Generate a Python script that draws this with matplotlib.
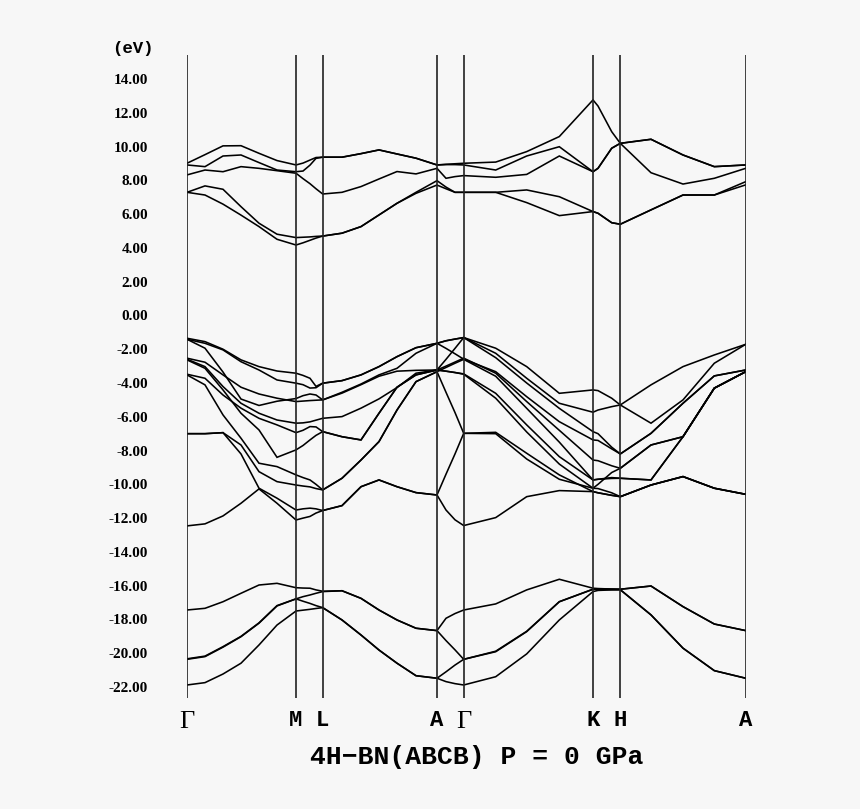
import matplotlib
matplotlib.use("Agg")
import matplotlib.pyplot as plt
from matplotlib.ticker import FormatStrFormatter

plt.rcParams['axes.unicode_minus'] = False

# high-symmetry points along the path
K_TICKS = [0.0, 1.09, 1.357, 2.50, 2.767, 4.06, 4.333, 5.587]
K_LABELS = ['\u0393', 'M', 'L', 'A', '\u0393', 'K', 'H', 'A']

# k nodes: G-M (7), M-L (4), L-A (6), A-G (3), G-K (4), K-H (3), H-A (4)
K_NODES = [0.00, 0.18, 0.36, 0.54, 0.72, 0.90, 1.09,
           1.16, 1.23, 1.29, 1.357,
           1.55, 1.74, 1.92, 2.10, 2.29, 2.50,
           2.59, 2.68, 2.767,
           3.087, 3.397, 3.723, 4.06,
           4.11, 4.247, 4.333,
           4.64, 4.96, 5.273, 5.587]

CONDUCTION = [
    [7.29, 7.13, 6.59, 5.94, 5.26, 4.51, 4.17,
     4.30, 4.45, 4.58, 4.70,
     4.87, 5.26, 5.95, 6.64, 7.23, 7.72,
     7.50, 7.29, 7.29,
     7.29, 6.68, 5.91, 6.15,
     6.05, 5.49, 5.40,
     6.25, 7.13, 7.13, 7.73],
    [7.29, 7.67, 7.47, 6.44, 5.46, 4.81, 4.61,
     4.63, 4.65, 4.68, 4.70,
     4.87, 5.26, 5.95, 6.64, 7.29, 7.98,
     7.60, 7.29, 7.29,
     7.29, 7.43, 7.03, 6.15,
     6.05, 5.49, 5.40,
     6.25, 7.13, 7.13, 7.92],
    [8.32, 8.61, 8.51, 8.81, 8.71, 8.57, 8.42,
     8.10, 7.80, 7.50, 7.19,
     7.29, 7.63, 8.08, 8.52, 8.38, 8.71,
     8.12, 8.22, 8.28,
     8.18, 8.35, 9.44, 8.51,
     8.71, 9.90, 10.19,
     10.43, 9.50, 8.81, 8.91],
    [8.91, 8.81, 9.44, 9.50, 9.05, 8.61, 8.51,
     8.55, 8.90, 9.30, 9.37,
     9.37, 9.58, 9.80, 9.56, 9.31, 8.91,
     8.93, 8.93, 8.91,
     8.61, 9.44, 9.99, 8.51,
     8.71, 9.90, 10.19,
     8.45, 7.78, 8.12, 8.71],
    [9.01, 9.52, 10.04, 10.05, 9.60, 9.17, 8.91,
     9.02, 9.20, 9.35, 9.37,
     9.37, 9.58, 9.80, 9.56, 9.31, 8.91,
     8.95, 8.98, 9.01,
     9.08, 9.70, 10.59, 12.76,
     12.40, 10.88, 10.19,
     10.43, 9.50, 8.81, 8.91],
]

VALENCE = [
    [-1.35, -1.55, -2.00, -2.63, -3.03, -3.29, -3.42,
     -3.55, -3.72, -4.20, -4.01,
     -3.86, -3.52, -3.03, -2.44, -1.91, -1.65,
     -1.50, -1.40, -1.31,
     -1.94, -3.03, -4.61, -4.41,
     -4.45, -4.90, -5.30,
     -4.11, -3.03, -2.34, -1.71],
    [-1.41, -1.65, -2.04, -2.74, -3.23, -3.82, -4.01,
     -4.10, -4.30, -4.28, -4.01,
     -3.86, -3.52, -3.03, -2.44, -1.91, -1.65,
     -1.95, -2.27, -2.59,
     -3.33, -4.81, -6.29, -7.37,
     -7.40, -7.90, -8.20,
     -6.98, -5.20, -3.58, -3.23],
    [-1.41, -1.94, -3.35, -4.95, -5.33, -5.08, -4.92,
     -4.75, -4.65, -4.71, -5.00,
     -4.55, -4.06, -3.52, -3.13, -2.24, -1.65,
     -1.50, -1.40, -1.31,
     -2.24, -3.72, -5.20, -5.73,
     -5.60, -5.40, -5.30,
     -6.38, -5.00, -2.83, -1.71],
    [-2.53, -2.77, -3.52, -4.25, -4.65, -4.90, -5.10,
     -5.07, -5.04, -5.02, -5.00,
     -4.60, -4.10, -3.60, -3.30, -3.25, -3.23,
     -2.60, -1.95, -1.31,
     -2.50, -4.00, -5.50, -6.88,
     -7.00, -7.80, -8.20,
     -6.98, -5.20, -3.58, -3.23],
    [-2.59, -3.03, -4.21, -5.20, -5.79, -6.19, -6.38,
     -6.36, -6.30, -6.20, -6.09,
     -5.99, -5.49, -4.94, -4.27, -3.42, -3.23,
     -3.00, -2.76, -2.53,
     -3.42, -5.10, -6.80, -8.56,
     -8.60, -8.90, -9.05,
     -7.67, -7.18, -4.30, -3.33],
    [-2.63, -3.13, -4.41, -5.79, -6.78, -8.40, -7.96,
     -7.70, -7.37, -7.10, -6.88,
     -7.18, -7.37, -5.79, -4.25, -3.52, -3.23,
     -3.30, -3.38, -3.46,
     -4.61, -6.48, -8.36, -9.74,
     -9.70, -9.65, -9.64,
     -9.74, -7.18, -4.31, -3.33],
    [-3.48, -3.72, -4.71, -5.49, -6.09, -6.48, -6.94,
     -6.80, -6.58, -6.60, -6.88,
     -7.18, -7.37, -5.79, -4.25, -3.52, -3.23,
     -3.30, -3.38, -3.48,
     -4.90, -6.90, -8.80, -10.23,
     -10.25, -10.50, -10.73,
     -10.04, -9.54, -10.23, -10.59],
    [-3.52, -4.11, -5.89, -7.27, -8.75, -8.95, -9.44,
     -9.60, -9.74, -10.00, -10.33,
     -9.64, -8.56, -7.47, -5.60, -3.92, -3.33,
     -4.55, -5.75, -6.98,
     -6.92, -8.16, -9.44, -10.43,
     -10.50, -10.65, -10.73,
     -10.04, -9.54, -10.23, -10.59],
    [-7.00, -7.00, -6.94, -7.67, -9.25, -9.84, -10.04,
     -10.10, -10.15, -10.25, -10.33,
     -9.64, -8.56, -7.47, -5.60, -3.92, -3.33,
     -3.08, -2.83, -2.60,
     -3.60, -5.50, -7.50, -9.74,
     -9.70, -9.60, -9.64,
     -9.74, -7.18, -4.31, -3.33],
    [-7.00, -7.00, -6.94, -8.20, -10.23, -10.82, -11.52,
     -11.45, -11.41, -11.45, -11.55,
     -11.26, -10.14, -9.74, -10.14, -10.49, -10.63,
     -9.40, -8.20, -6.98,
     -7.00, -8.50, -9.70, -10.23,
     -10.00, -9.30, -9.05,
     -7.67, -7.18, -4.30, -3.33],
    [-12.46, -12.34, -11.87, -11.12, -10.27, -11.12, -12.11,
     -12.00, -11.90, -11.70, -11.55,
     -11.26, -10.14, -9.74, -10.14, -10.49, -10.63,
     -11.52, -12.10, -12.44,
     -11.97, -10.73, -10.37, -10.43,
     -10.50, -10.65, -10.73,
     -10.04, -9.54, -10.23, -10.59],
]

SEMICORE = [
    [-17.44, -17.34, -16.95, -16.45, -15.96, -15.86, -16.12,
     -16.14, -16.15, -16.25, -16.33,
     -16.30, -16.75, -17.44, -18.03, -18.52, -18.66,
     -17.93, -17.65, -17.44,
     -17.08, -16.25, -15.62, -16.15,
     -16.17, -16.20, -16.21,
     -16.02, -17.24, -18.27, -18.66],
    [-20.36, -20.20, -19.64, -19.02, -18.22, -17.20, -16.78,
     -16.65, -16.55, -16.45, -16.35,
     -16.30, -16.75, -17.44, -18.03, -18.52, -18.66,
     -19.25, -19.80, -20.36,
     -19.91, -18.72, -16.95, -16.21,
     -16.22, -16.23, -16.24,
     -17.73, -19.70, -21.03, -21.48],
    [-20.33, -20.17, -19.61, -19.00, -18.20, -17.18, -16.78,
     -16.92, -17.05, -17.18, -17.30,
     -18.03, -18.92, -19.81, -20.59, -21.33, -21.48,
     -21.10, -20.70, -20.36,
     -19.88, -18.70, -16.95, -16.21,
     -16.20, -16.20, -16.21,
     -16.02, -17.24, -18.27, -18.66],
    [-21.88, -21.74, -21.23, -20.59, -19.51, -18.33, -17.50,
     -17.45, -17.40, -17.35, -17.30,
     -18.03, -18.92, -19.81, -20.59, -21.33, -21.48,
     -21.68, -21.80, -21.88,
     -21.39, -20.04, -18.03, -16.35,
     -16.28, -16.25, -16.24,
     -17.73, -19.70, -21.03, -21.48],
]

Y_TICKS = list(range(-22, 15, 2))
TITLE = '4H\u2212BN(ABCB) P = 0 GPa'

BG = '#f7f7f7'
W, H = 860, 809

fig = plt.figure(figsize=(W / 100, H / 100), dpi=100, facecolor=BG)
ax = fig.add_axes([187 / W, 1 - 698 / H, 558.7 / W, 643 / H], facecolor=BG)

for band in CONDUCTION + VALENCE + SEMICORE:
    ax.plot(K_NODES, band, color='black', lw=1.15, solid_joinstyle='miter')

for k in K_TICKS:
    ax.axvline(k, color='#222222', lw=1.2)

ax.set_xlim(K_TICKS[0], K_TICKS[-1])
ax.set_ylim(-22.65, 15.42)
for s in ax.spines.values():
    s.set_visible(False)

ax.set_yticks(Y_TICKS)
ax.yaxis.set_major_formatter(FormatStrFormatter('%.2f'))
ax.tick_params(axis='y', length=0, pad=28)
for lab in ax.get_yticklabels():
    lab.set_fontfamily('Liberation Serif')
    lab.set_fontweight('bold')
    lab.set_fontsize(11)

ax.set_xticks(K_TICKS)
ax.set_xticklabels(K_LABELS)
ax.tick_params(axis='x', length=0, pad=9)
for lab in ax.get_xticklabels():
    if lab.get_text() == '\u0393':
        lab.set_fontfamily('Liberation Serif')
        lab.set_fontsize(19)
    else:
        lab.set_fontfamily('Liberation Mono')
        lab.set_fontweight('bold')
        lab.set_fontsize(16)

fig.text(133 / W, 1 - 49 / H, '(eV)', ha='center', va='center',
         fontfamily='Liberation Mono', fontweight='bold', fontsize=12.5)
fig.text(476.5 / W, 1 - 757 / H, TITLE, ha='center', va='center',
         fontfamily='Liberation Mono', fontweight='bold', fontsize=19)

fig.savefig('out.png', dpi=100, facecolor=BG)
